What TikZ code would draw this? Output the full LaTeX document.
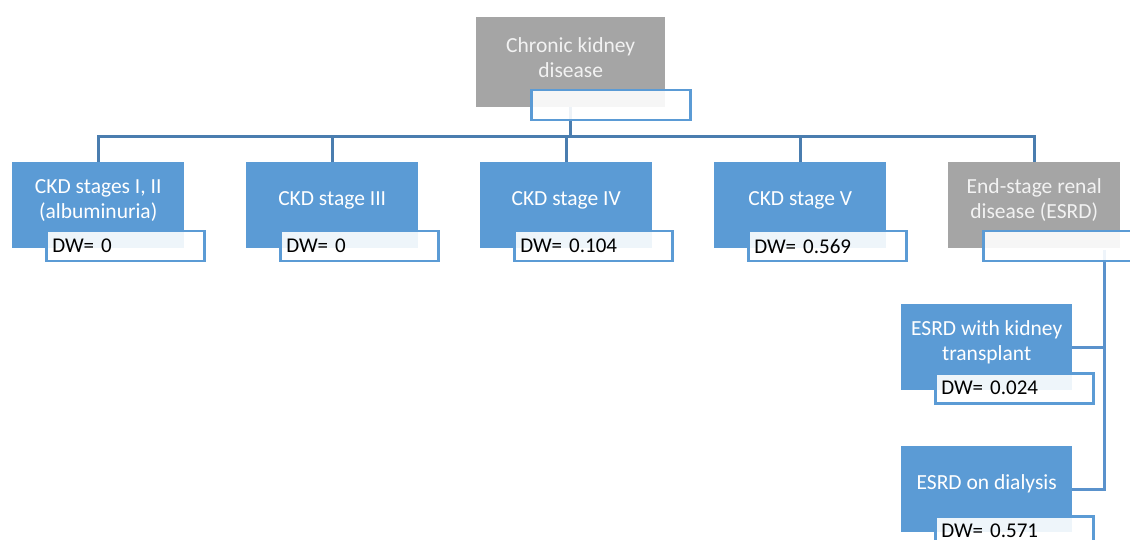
\documentclass[tikz,border=0pt]{standalone}
\usepackage{fontspec}
\setmainfont{Carlito}
\usetikzlibrary{backgrounds}
\definecolor{boxblue}{HTML}{5B9BD5}
\definecolor{boxgray}{HTML}{A5A5A5}
\definecolor{linkblue}{HTML}{4A7DAF}
\definecolor{linkside}{HTML}{5A92CC}
\definecolor{graytext}{HTML}{F2F2F2}
\begin{document}
\begin{tikzpicture}[x=1pt,y=-1pt,
  bluebox/.style={fill=boxblue, draw=none, minimum width=172pt, minimum height=86pt, anchor=north west, inner sep=0pt},
  graybox/.style={fill=boxgray, draw=none, minimum width=172pt, minimum height=86pt, anchor=north west, inner sep=0pt},
  boxtext/.style={text=white, font=\fontsize{21.5}{25}\selectfont, align=center, inner sep=0pt},
  graytxt/.style={boxtext, text=graytext},
  dwlab/.style={draw=boxblue, line width=2.5pt, fill=white, fill opacity=0.9, text opacity=1, text=black,
    anchor=north west, minimum height=30pt, text width=146pt, inner xsep=6pt, inner ysep=0pt, align=left,
    font=\fontsize{21}{25}\selectfont},
  link/.style={draw=linkblue, line width=3pt},
  sidelink/.style={draw=linkside, line width=3pt}]
\useasboundingbox (0,0) rectangle (1130,540);
\clip (0,0) rectangle (1130,540);

% top
\node[graybox, minimum width=189pt, minimum height=90pt] (ckd) at (476,17) {};
\node[graytxt] (ckdt) at ([yshift=5pt]ckd.center) {Chronic kidney\\disease};
\node[dwlab, minimum width=159pt, text width=147pt] (ckdl) at (530,89) {};

% level 2
\node[bluebox] (s1) at (12,162) {};
\node[boxtext] (s1t) at ([yshift=5pt]s1.center) {CKD stages I, II\\(albuminuria)};
\node[dwlab] (s1l) at (45,230) {DW= 0};

\node[bluebox] (s2) at (246,162) {};
\node[boxtext] (s2t) at ([yshift=5pt]s2.center) {CKD stage III};
\node[dwlab] (s2l) at (279,230) {DW= 0};

\node[bluebox] (s3) at (480,162) {};
\node[boxtext] (s3t) at ([yshift=5pt]s3.center) {CKD stage IV};
\node[dwlab] (s3l) at (513,230) {DW= 0.104};

\node[bluebox] (s4) at (714,162) {};
\node[boxtext] (s4t) at ([yshift=5pt]s4.center) {CKD stage V};
\node[dwlab] (s4l) at (747,230) {DW= 0.569};

\node[graybox] (s5) at (948,162) {};
\node[graytxt] (s5t) at ([yshift=5pt]s5.center) {End-stage renal\\disease (ESRD)};
\node[dwlab] (s5l) at (982,230) {};

% level 3
\node[bluebox, minimum width=171pt] (tr) at (901,304) {};
\node[boxtext] (trt) at ([yshift=5pt]tr.center) {ESRD with kidney\\transplant};
\node[dwlab] (trl) at (934,372) {DW= 0.024};

\node[bluebox, minimum width=171pt] (di) at (901,446) {};
\node[boxtext] (dit) at ([yshift=5pt]di.center) {ESRD on dialysis};
\node[dwlab] (dil) at (934,515) {DW= 0.571};

\coordinate (bus) at (570,137);
\coordinate (esj) at (1104,250);

\begin{pgfonlayer}{background}
\draw[link] (ckd.south) -- (ckd.south |- bus);
\draw[link] (s1.north) |- (s5.north |- bus) -- (s5.north);
\draw[link] (s2.north) -- (s2.north |- bus);
\draw[link] (s3.north) -- (s3.north |- bus);
\draw[link] (s4.north) -- (s4.north |- bus);
\draw[sidelink] (esj) |- (di.east);
\draw[sidelink] (tr.east) -- (tr.east -| esj);
\end{pgfonlayer}
\end{tikzpicture}
\end{document}
